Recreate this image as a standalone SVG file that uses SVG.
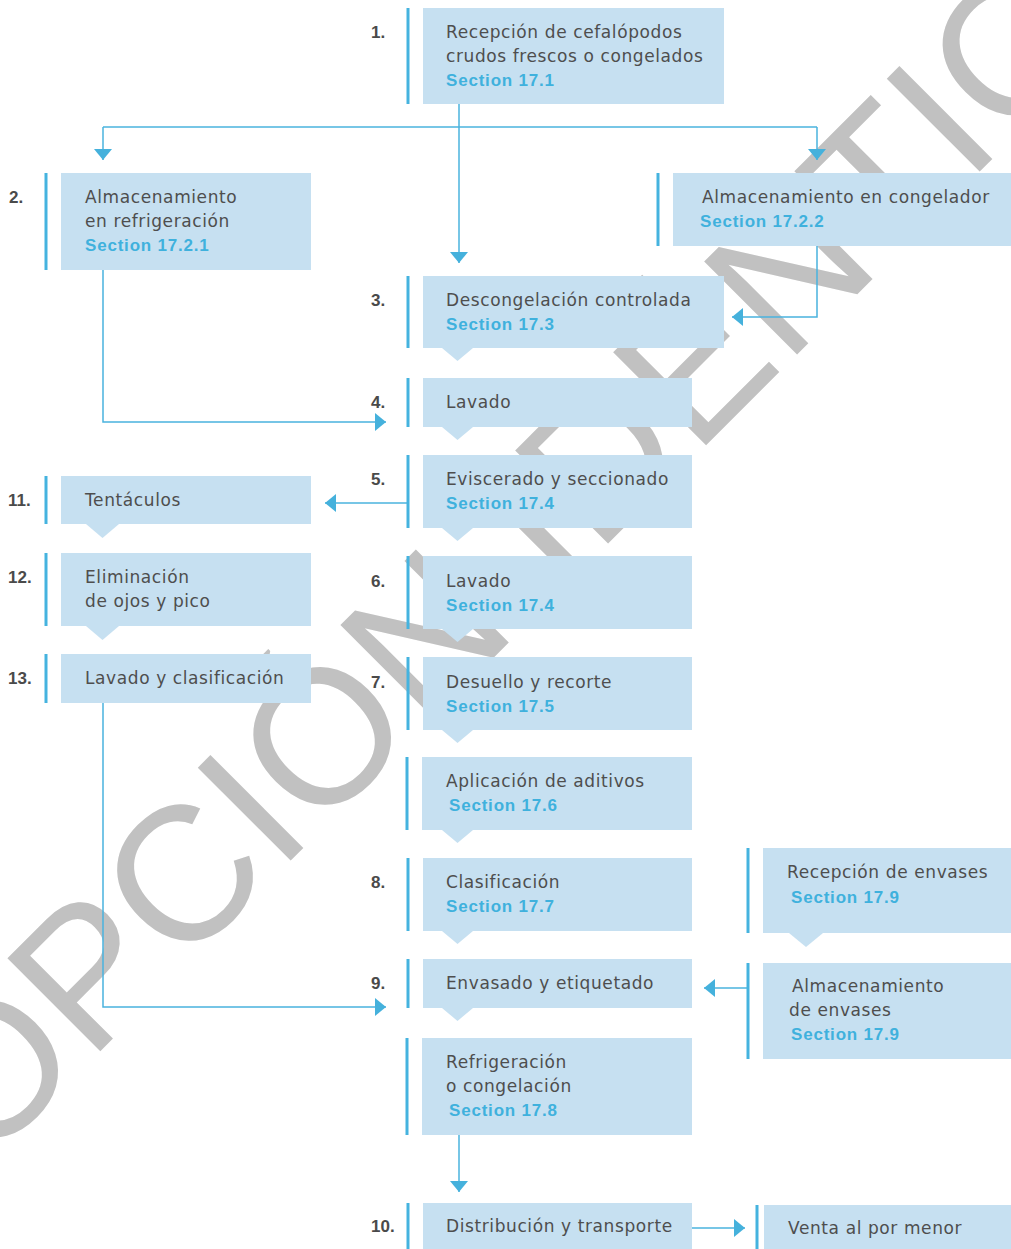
<svg xmlns="http://www.w3.org/2000/svg" width="1011" height="1249" viewBox="0 0 1011 1249">
  <defs>
    <style>
      .box { fill: #c6e0f1; }
      .bar { fill: #45b3df; }
      .txt { font-family: "DejaVu Sans", sans-serif; font-size: 17px; letter-spacing: 0.6px; fill: #4e4e4e; }
      .sec { font-family: "Liberation Sans", Arial, sans-serif; font-weight: bold; font-size: 17px; letter-spacing: 0.8px; fill: #3fb1dd; }
      .num { font-family: "Liberation Sans", Arial, sans-serif; font-weight: bold; font-size: 17px; fill: #4a4a4a; }
      .link { fill: none; stroke: #4ab3de; stroke-width: 1.5; }
      .wm { font-family: "Liberation Sans", Arial, sans-serif; font-size: 191px; letter-spacing: 1px; fill: #c1c1c1; }
    </style>
    <marker id="arrow" markerUnits="userSpaceOnUse" markerWidth="11" markerHeight="18" viewBox="0 0 11 18" refX="11" refY="9" orient="auto">
      <path d="M0,0 L11,9 L0,18 z" fill="#45b1dc"/>
    </marker>
  </defs>

  <rect width="1011" height="1249" fill="#ffffff"/>

  <!-- diagonal watermark, behind everything -->
  <text class="wm" transform="translate(296.9 854.4) rotate(-45)" x="-710.7" y="0">ADOPCIÓN IDÉNTICA</text>

  <!-- connectors -->
  <g id="connectors">
    <path class="link" d="M459,104 V263" marker-end="url(#arrow)"/>
    <path class="link" d="M103,127 H817"/>
    <path class="link" d="M103,127 V160" marker-end="url(#arrow)"/>
    <path class="link" d="M817,127 V160" marker-end="url(#arrow)"/>
    <path class="link" d="M103,270 V422 H386" marker-end="url(#arrow)"/>
    <path class="link" d="M817,246 V317 H732" marker-end="url(#arrow)"/>
    <path class="link" d="M408,503 H325" marker-end="url(#arrow)"/>
    <path class="link" d="M103,703 V1007 H386" marker-end="url(#arrow)"/>
    <path class="link" d="M748,988 H704" marker-end="url(#arrow)"/>
    <path class="link" d="M459,1134 V1192" marker-end="url(#arrow)"/>
    <path class="link" d="M692,1228 H745" marker-end="url(#arrow)"/>
  </g>

  <!-- main column -->
  <g id="step1">
    <rect class="bar" x="406.5" y="8" width="3" height="96"/>
    <rect class="box" x="423" y="8" width="301" height="96"/>
    <text class="num" x="371" y="38">1.</text>
    <text class="txt" x="446" y="38">Recepción de cefalópodos</text>
    <text class="txt" x="446" y="62">crudos frescos o congelados</text>
    <text class="sec" x="446" y="86">Section 17.1</text>
  </g>

  <g id="step2">
    <rect class="bar" x="44.5" y="173" width="3" height="97"/>
    <rect class="box" x="61" y="173" width="250" height="97"/>
    <text class="num" x="9" y="203">2.</text>
    <text class="txt" x="85" y="203">Almacenamiento</text>
    <text class="txt" x="85" y="227">en refrigeración</text>
    <text class="sec" x="85" y="251">Section 17.2.1</text>
  </g>

  <g id="freezer-storage">
    <rect class="bar" x="656.5" y="173" width="3" height="73"/>
    <rect class="box" x="673" y="173" width="338" height="73"/>
    <text class="txt" x="702" y="203">Almacenamiento en congelador</text>
    <text class="sec" x="700" y="227">Section 17.2.2</text>
  </g>

  <g id="step3">
    <rect class="bar" x="406.5" y="276" width="3" height="72"/>
    <rect class="box" x="423" y="276" width="301" height="72"/>
    <polygon class="box" points="442,348 473,348 457.5,361"/>
    <text class="num" x="371" y="306">3.</text>
    <text class="txt" x="446" y="306">Descongelación controlada</text>
    <text class="sec" x="446" y="330">Section 17.3</text>
  </g>

  <g id="step4">
    <rect class="bar" x="406.5" y="378" width="3" height="49"/>
    <rect class="box" x="423" y="378" width="269" height="49"/>
    <polygon class="box" points="442,427 473,427 457.5,440"/>
    <text class="num" x="371" y="408">4.</text>
    <text class="txt" x="446" y="408">Lavado</text>
  </g>

  <g id="step5">
    <rect class="bar" x="406.5" y="455" width="3" height="73"/>
    <rect class="box" x="423" y="455" width="269" height="73"/>
    <polygon class="box" points="442,528 473,528 457.5,541"/>
    <text class="num" x="371" y="485">5.</text>
    <text class="txt" x="446" y="485">Eviscerado y seccionado</text>
    <text class="sec" x="446" y="509">Section 17.4</text>
  </g>

  <g id="step6">
    <rect class="bar" x="406.5" y="556" width="3" height="73"/>
    <rect class="box" x="423" y="556" width="269" height="73"/>
    <polygon class="box" points="442,629 473,629 457.5,642"/>
    <text class="num" x="371" y="587">6.</text>
    <text class="txt" x="446" y="587">Lavado</text>
    <text class="sec" x="446" y="611">Section 17.4</text>
  </g>

  <g id="step7">
    <rect class="bar" x="406.5" y="657" width="3" height="73"/>
    <rect class="box" x="423" y="657" width="269" height="73"/>
    <polygon class="box" points="442,730 473,730 457.5,743"/>
    <text class="num" x="371" y="688">7.</text>
    <text class="txt" x="446" y="688">Desuello y recorte</text>
    <text class="sec" x="446" y="712">Section 17.5</text>
  </g>

  <g id="additives">
    <rect class="bar" x="405.5" y="757" width="3" height="73"/>
    <rect class="box" x="422" y="757" width="270" height="73"/>
    <polygon class="box" points="442,830 473,830 457.5,843"/>
    <text class="txt" x="446" y="787">Aplicación de aditivos</text>
    <text class="sec" x="449" y="811">Section 17.6</text>
  </g>

  <g id="step8">
    <rect class="bar" x="406.5" y="858" width="3" height="73"/>
    <rect class="box" x="423" y="858" width="269" height="73"/>
    <polygon class="box" points="442,931 473,931 457.5,944"/>
    <text class="num" x="371" y="888">8.</text>
    <text class="txt" x="446" y="888">Clasificación</text>
    <text class="sec" x="446" y="912">Section 17.7</text>
  </g>

  <g id="step9">
    <rect class="bar" x="406.5" y="959" width="3" height="49"/>
    <rect class="box" x="423" y="959" width="269" height="49"/>
    <polygon class="box" points="442,1008 473,1008 457.5,1021"/>
    <text class="num" x="371" y="989">9.</text>
    <text class="txt" x="446" y="989">Envasado y etiquetado</text>
  </g>

  <g id="chilling">
    <rect class="bar" x="405.5" y="1038" width="3" height="97"/>
    <rect class="box" x="422" y="1038" width="270" height="97"/>
    <text class="txt" x="446" y="1068">Refrigeración</text>
    <text class="txt" x="446" y="1092"> o congelación</text>
    <text class="sec" x="449" y="1116">Section 17.8</text>
  </g>

  <g id="step10">
    <rect class="bar" x="406.5" y="1203" width="3" height="46"/>
    <rect class="box" x="423" y="1203" width="269" height="46"/>
    <text class="num" x="371" y="1232">10.</text>
    <text class="txt" x="446" y="1232">Distribución y transporte</text>
  </g>

  <g id="retail">
    <rect class="bar" x="755.5" y="1205" width="3" height="44"/>
    <rect class="box" x="764" y="1205" width="247" height="44"/>
    <text class="txt" x="788" y="1234">Venta al por menor</text>
  </g>

  <!-- left column -->
  <g id="step11">
    <rect class="bar" x="44.5" y="476" width="3" height="48"/>
    <rect class="box" x="61" y="476" width="250" height="48"/>
    <polygon class="box" points="86,524 119,524 102.5,538"/>
    <text class="num" x="8" y="506">11.</text>
    <text class="txt" x="85" y="506">Tentáculos</text>
  </g>

  <g id="step12">
    <rect class="bar" x="44.5" y="553" width="3" height="73"/>
    <rect class="box" x="61" y="553" width="250" height="73"/>
    <polygon class="box" points="86,626 119,626 102.5,640"/>
    <text class="num" x="8" y="583">12.</text>
    <text class="txt" x="85" y="583">Eliminación</text>
    <text class="txt" x="85" y="607">de ojos y pico</text>
  </g>

  <g id="step13">
    <rect class="bar" x="44.5" y="654" width="3" height="49"/>
    <rect class="box" x="61" y="654" width="250" height="49"/>
    <text class="num" x="8" y="684">13.</text>
    <text class="txt" x="85" y="684">Lavado y clasificación</text>
  </g>

  <!-- packaging column -->
  <g id="packaging-reception">
    <rect class="bar" x="746.5" y="848" width="3" height="85"/>
    <rect class="box" x="763" y="848" width="248" height="85"/>
    <polygon class="box" points="789,933 823,933 806,947"/>
    <text class="txt" x="787" y="878">Recepción de envases</text>
    <text class="sec" x="791" y="903">Section 17.9</text>
  </g>

  <g id="packaging-storage">
    <rect class="bar" x="746.5" y="963" width="3" height="96"/>
    <rect class="box" x="763" y="963" width="248" height="96"/>
    <text class="txt" x="792" y="992">Almacenamiento</text>
    <text class="txt" x="789" y="1016">de envases</text>
    <text class="sec" x="791" y="1040">Section 17.9</text>
  </g>
</svg>
